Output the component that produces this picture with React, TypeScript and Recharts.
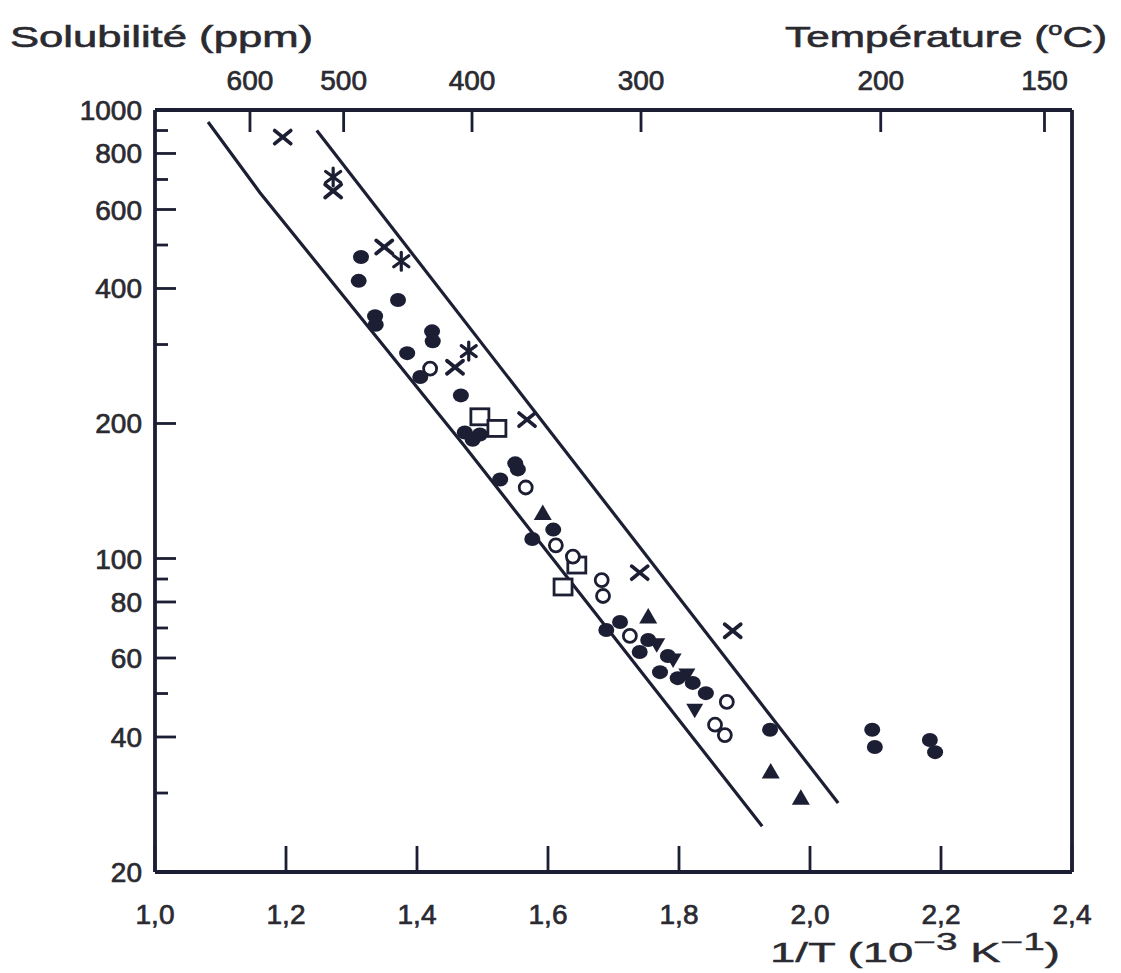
import React from 'react';
import { ComposedChart, Scatter, XAxis, YAxis, ReferenceLine } from 'recharts';

const INK = '#1c1e33';
const TXT = '#2a2a30';
const FONT = '"Liberation Sans", Arial, sans-serif';

// Axes
const xTicks = [1.0, 1.2, 1.4, 1.6, 1.8, 2.0, 2.2, 2.4];
const yTicks = [20, 30, 40, 50, 60, 70, 80, 90, 100, 200, 300, 400, 500, 600, 700, 800, 900, 1000];
const yLabeled = [20, 40, 60, 80, 100, 200, 400, 600, 800, 1000];
const tempLabels = [600, 500, 400, 300, 200, 150];
const tempTickPositions = [1.145, 1.288, 1.484, 1.742, 2.108, 2.358];

// Boundary lines of the band
const leftBand = [
  { x: 1.081, y: 940 },
  { x: 1.16, y: 655 },
  { x: 1.47, y: 180 },
  { x: 1.927, y: 25.3 },
];
const rightBand = [
  { x: 1.247, y: 900 },
  { x: 2.043, y: 28.5 },
];

// Measurements
const crosses = [
  { x: 1.195, y: 870 }, { x: 1.272, y: 660 }, { x: 1.35, y: 495 }, { x: 1.458, y: 267 },
  { x: 1.568, y: 204 }, { x: 1.74, y: 93 }, { x: 1.882, y: 69 },
];
const asterisks = [
  { x: 1.272, y: 709 }, { x: 1.376, y: 460 }, { x: 1.479, y: 290 },
];
const filledDots = [
  { x: 1.3145, y: 470 }, { x: 1.311, y: 416 }, { x: 1.371, y: 377 }, { x: 1.336, y: 347 },
  { x: 1.337, y: 332 }, { x: 1.423, y: 321 }, { x: 1.424, y: 305 }, { x: 1.385, y: 287 },
  { x: 1.405, y: 254 }, { x: 1.467, y: 231 }, { x: 1.473, y: 191 }, { x: 1.496, y: 189 },
  { x: 1.485, y: 184 }, { x: 1.55, y: 163 }, { x: 1.554, y: 158 }, { x: 1.527, y: 150 },
  { x: 1.608, y: 116 }, { x: 1.576, y: 110.5 }, { x: 1.689, y: 69.3 }, { x: 1.71, y: 72.2 },
  { x: 1.753, y: 65.8 }, { x: 1.74, y: 61.9 }, { x: 1.783, y: 60.6 }, { x: 1.771, y: 55.8 },
  { x: 1.798, y: 54.1 }, { x: 1.821, y: 52.8 }, { x: 1.841, y: 50.1 }, { x: 1.939, y: 41.5 },
  { x: 2.095, y: 41.5 }, { x: 2.099, y: 38.0 }, { x: 2.183, y: 39.4 }, { x: 2.191, y: 37.0 },
];
const openDots = [
  { x: 1.42, y: 265 }, { x: 1.566, y: 144 }, { x: 1.612, y: 107 }, { x: 1.638, y: 101 },
  { x: 1.682, y: 89.5 }, { x: 1.684, y: 82.5 }, { x: 1.725, y: 67.2 }, { x: 1.873, y: 47.9 },
  { x: 1.855, y: 42.6 }, { x: 1.87, y: 40.4 },
];
const openSquares = [
  { x: 1.496, y: 207 }, { x: 1.522, y: 195 }, { x: 1.644, y: 96.7 }, { x: 1.623, y: 86.4 },
];
const trianglesUp = [
  { x: 1.592, y: 126 }, { x: 1.753, y: 74.1 }, { x: 1.94, y: 33.4 }, { x: 1.986, y: 29.2 },
];
const trianglesDown = [
  { x: 1.766, y: 64.2 }, { x: 1.791, y: 59.4 }, { x: 1.812, y: 55.0 }, { x: 1.824, y: 45.9 },
];

// Marker shapes
const Nothing = () => <g />;
const FilledDot = (p: any) => <ellipse cx={p.cx} cy={p.cy} rx={8} ry={7} fill={INK} />;
const OpenDot = (p: any) => (
  <circle cx={p.cx} cy={p.cy} r={6.5} fill="#fff" stroke={INK} strokeWidth={2.8} />
);
const Cross = (p: any) => (
  <g stroke={INK} strokeWidth={3.8} strokeLinecap="round">
    <line x1={p.cx - 8} y1={p.cy - 6.5} x2={p.cx + 8} y2={p.cy + 6.5} />
    <line x1={p.cx - 8} y1={p.cy + 6.5} x2={p.cx + 8} y2={p.cy - 6.5} />
  </g>
);
const Asterisk = (p: any) => (
  <g stroke={INK} strokeWidth={3.2} strokeLinecap="round">
    <line x1={p.cx - 7.5} y1={p.cy - 5.5} x2={p.cx + 7.5} y2={p.cy + 5.5} />
    <line x1={p.cx - 7.5} y1={p.cy + 5.5} x2={p.cx + 7.5} y2={p.cy - 5.5} />
    <line x1={p.cx} y1={p.cy - 9} x2={p.cx} y2={p.cy + 9} />
  </g>
);
const Square = (p: any) => (
  <rect x={p.cx - 9} y={p.cy - 8} width={18} height={16} fill="#fff" stroke={INK} strokeWidth={2.8} />
);
const TriUp = (p: any) => (
  <polygon
    points={`${p.cx},${p.cy - 9} ${p.cx - 9},${p.cy + 6.5} ${p.cx + 9},${p.cy + 6.5}`}
    fill={INK}
  />
);
const TriDown = (p: any) => (
  <polygon
    points={`${p.cx - 8.5},${p.cy - 6.5} ${p.cx + 8.5},${p.cy - 6.5} ${p.cx},${p.cy + 8}`}
    fill={INK}
  />
);

const tickText = { fontSize: 28, fontFamily: FONT, fill: TXT, stroke: TXT, strokeWidth: 0.7 };

// Ticks
const YTick = (p: any) => {
  const { x, y, payload } = p;
  const v = payload.value;
  const major = yLabeled.includes(v);
  return (
    <g>
      <line x1={x} x2={x + (major ? 21 : 13)} y1={y} y2={y} stroke={INK} strokeWidth={2.8} />
      {major && (
        <text x={x - 13} y={y} dy={10} textAnchor="end" {...tickText}>
          {v}
        </text>
      )}
    </g>
  );
};
const XTickBottom = (p: any) => {
  const { x, y, payload } = p;
  const v = payload.value as number;
  return (
    <g>
      <line x1={x} x2={x} y1={y} y2={y - 26} stroke={INK} strokeWidth={2.8} />
      <text x={x} y={y + 52} textAnchor="middle" {...tickText}>
        {v.toFixed(1).replace('.', ',')}
      </text>
    </g>
  );
};
const XTickTop = (p: any) => {
  const { x, y, index } = p;
  const label = tempLabels[index];
  return (
    <g>
      <line x1={x} x2={x} y1={y} y2={y + 22} stroke={INK} strokeWidth={2.8} />
      <text x={x} y={y - 20} textAnchor="middle" {...tickText}>
        {label}
      </text>
    </g>
  );
};

const W = 1105;
const H = 965;

export default function App() {
  return (
    <>
      <style>{'html,body{margin:0;padding:0;overflow:hidden;background:#fff}'}</style>
      <div style={{ width: 1121, height: 973, padding: 8, boxSizing: 'border-box', background: '#fff' }}>
        <div style={{ width: W, height: H, position: 'relative' }}>
          <ComposedChart width={W} height={H} margin={{ top: 62, right: 41, bottom: 0, left: 0 }}>
            <XAxis
              xAxisId="b"
              dataKey="x"
              type="number"
              domain={[1.0, 2.4]}
              ticks={xTicks}
              interval={0}
              allowDataOverflow
              height={101}
              tickSize={0}
              tickMargin={0}
              tickLine={false}
              axisLine={{ stroke: INK, strokeWidth: 3.8 }}
              tick={<XTickBottom />}
            />
            <XAxis
              xAxisId="t"
              orientation="top"
              dataKey="x"
              type="number"
              domain={[1.0, 2.4]}
              ticks={tempTickPositions}
              interval={0}
              allowDataOverflow
              height={40}
              tickSize={0}
              tickMargin={0}
              tickLine={false}
              axisLine={{ stroke: INK, strokeWidth: 3.8 }}
              tick={<XTickTop />}
            />
            <YAxis
              yAxisId="l"
              type="number"
              scale="log"
              domain={[20, 1000]}
              ticks={yTicks}
              interval={0}
              allowDataOverflow
              width={147}
              tickSize={0}
              tickMargin={0}
              tickLine={false}
              axisLine={{ stroke: INK, strokeWidth: 3.8 }}
              tick={<YTick />}
            />
            <ReferenceLine xAxisId="b" yAxisId="l" x={2.4} stroke={INK} strokeWidth={3.8} />

            <Scatter xAxisId="b" yAxisId="l" data={leftBand} dataKey="y" line={{ stroke: INK, strokeWidth: 3.2 }} shape={<Nothing />} isAnimationActive={false} />
            <Scatter xAxisId="b" yAxisId="l" data={rightBand} dataKey="y" line={{ stroke: INK, strokeWidth: 3.2 }} shape={<Nothing />} isAnimationActive={false} />

            <Scatter xAxisId="b" yAxisId="l" data={openSquares} dataKey="y" shape={<Square />} isAnimationActive={false} />
            <Scatter xAxisId="b" yAxisId="l" data={openDots} dataKey="y" shape={<OpenDot />} isAnimationActive={false} />
            <Scatter xAxisId="b" yAxisId="l" data={filledDots} dataKey="y" shape={<FilledDot />} isAnimationActive={false} />
            <Scatter xAxisId="b" yAxisId="l" data={trianglesUp} dataKey="y" shape={<TriUp />} isAnimationActive={false} />
            <Scatter xAxisId="b" yAxisId="l" data={trianglesDown} dataKey="y" shape={<TriDown />} isAnimationActive={false} />
            <Scatter xAxisId="b" yAxisId="l" data={crosses} dataKey="y" shape={<Cross />} isAnimationActive={false} />
            <Scatter xAxisId="b" yAxisId="l" data={asterisks} dataKey="y" shape={<Asterisk />} isAnimationActive={false} />
          </ComposedChart>
          <svg width={W} height={H} style={{ position: 'absolute', left: 0, top: 0, pointerEvents: 'none' }}>
            <text x={2} y={39} fontSize={30} fontFamily={FONT} fill={TXT} stroke={TXT} strokeWidth={0.6} textLength={303} lengthAdjust="spacingAndGlyphs">
              Solubilité (ppm)
            </text>
            <text x={777} y={39} fontSize={30} fontFamily={FONT} fill={TXT} stroke={TXT} strokeWidth={0.6} textLength={322} lengthAdjust="spacingAndGlyphs">
              Température (<tspan fontSize={18} dy={-12}>o</tspan><tspan dy={12}>C)</tspan>
            </text>
            <text x={762} y={954} fontSize={27} fontFamily={FONT} fill={TXT} stroke={TXT} strokeWidth={0.4} textLength={290} lengthAdjust="spacingAndGlyphs">
              1/T (10<tspan fontSize={23} dy={-12}>−3</tspan><tspan dy={12}> K</tspan><tspan fontSize={23} dy={-12}>−1</tspan><tspan dy={12}>)</tspan>
            </text>
          </svg>
        </div>
      </div>
    </>
  );
}
